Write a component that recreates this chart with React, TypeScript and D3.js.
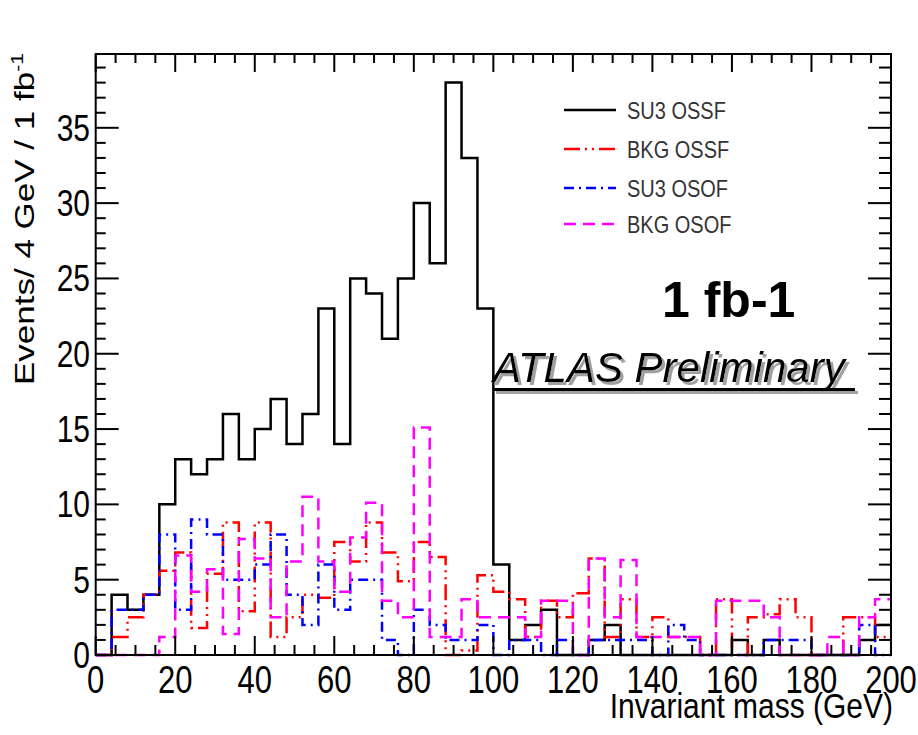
import React from "react";
import * as d3 from "d3";

// 4 GeV bins from 0 to 200 GeV
const binEdges = d3.range(0, 204, 4);

const su3Ossf = [0, 4, 3, 4, 10, 13, 12, 13, 16, 13, 15, 17, 14, 16, 23, 14, 25, 24, 21, 25, 30, 26, 38, 33, 23, 6, 1, 2, 3, 0, 0, 1, 2, 0, 0, 0, 0, 0, 0, 0, 1, 0, 1, 0, 0, 0, 0, 0, 1, 2];
const bkgOssf = [0, 1.2, 2.5, 4, 5.6, 6.8, 1.8, 5.4, 8.8, 2.9, 8.8, 1.2, 2.5, 4, 3.8, 7.5, 6.2, 8.8, 6.8, 4.9, 7.5, 6.5, 0, 0.3, 5.3, 4.2, 3.7, 1.2, 3.6, 2.5, 4.1, 6.4, 1.2, 3.7, 1.2, 2.5, 1.2, 1.2, 0, 3.7, 0, 2.5, 2.7, 3.7, 2.5, 0, 0, 2.5, 2.5, 1.2];
const su3Osof = [0, 3, 3, 4, 8, 3, 9, 8, 5, 5, 6, 8, 4, 2, 6, 3, 5, 5, 1, 0, 3, 2, 1, 1, 2, 0, 1, 1, 0, 1, 0, 1, 1, 1, 1, 0, 2, 1, 0, 0, 0, 0, 1, 1, 1, 0, 0, 0, 2, 0];
const bkgOsof = [0, 0, 0, 0, 1.2, 6.6, 4.2, 5.7, 1.4, 7.7, 6.4, 2.5, 6.2, 10.5, 6.2, 4.2, 7.8, 10.1, 3.6, 2.5, 15.1, 1.2, 1.2, 3.7, 2.5, 2.5, 2.5, 1.2, 3.6, 3.6, 0, 6.4, 2.5, 6.3, 1.2, 1.2, 1.2, 1.2, 0, 3.6, 3.6, 3.6, 2.5, 0, 0, 0, 1.2, 0, 2.5, 3.7];

const seriesNames = ["SU3 OSSF", "BKG OSSF", "SU3 OSOF", "BKG OSOF"];
const xTickLabels = [0, 20, 40, 60, 80, 100, 120, 140, 160, 180, 200];
const yTickLabels = [0, 5, 10, 15, 20, 25, 30, 35];

const FONT = "'Liberation Sans', Arial, Helvetica, sans-serif";

const styles = [
  { values: su3Ossf, color: "#000000", dash: "" },
  { values: bkgOssf, color: "#ff0000", dash: "16 5 2 5 2 5" },
  { values: su3Osof, color: "#0000ff", dash: "10 5 2 5" },
  { values: bkgOsof, color: "#ff00ff", dash: "12 7" },
];

function STxt({ x, y, sx = 1, sy = 1.25, rot = 0, anchor = "start", size, children, fill = "#000", weight = "normal", style = "normal" }: any) {
  return (
    <text
      transform={`translate(${x},${y}) rotate(${rot}) scale(${sx},${sy})`}
      textAnchor={anchor}
      fontSize={size}
      fontFamily={FONT}
      fill={fill}
      fontWeight={weight}
      fontStyle={style}
    >
      {children}
    </text>
  );
}

export default function App() {
  const x = d3.scaleLinear().domain([0, 200]).range([95.7, 891]);
  const y = d3.scaleLinear().domain([0, 39.9]).range([655, 54]);
  const line = d3
    .line<[number, number]>()
    .x((d) => x(d[0]))
    .y((d) => y(d[1]))
    .curve(d3.curveStepAfter);
  const histPath = (vals: number[]) =>
    line([...vals.map((v, i) => [binEdges[i], v] as [number, number]), [binEdges[vals.length], vals[vals.length - 1]]]) || "";

  const [x0, x1] = x.range();
  const [y0, y1] = y.range();
  const xMinor = d3.range(0, 201, 5);
  const yMinor = d3.range(0, 40, 1);

  const legendRows = [110, 149, 188, 224];

  return (
    <svg width={918} height={735} style={{ position: "absolute", left: 0, top: 0, background: "#fff" }}>
      <defs>
        <filter id="softShadow" x="-5%" y="-20%" width="110%" height="150%">
          <feOffset in="SourceAlpha" dx={3} dy={3} result="off" />
          <feFlood floodColor="#a0a0a0" result="col" />
          <feComposite in="col" in2="off" operator="in" result="shadow" />
          <feMerge>
            <feMergeNode in="shadow" />
            <feMergeNode in="SourceGraphic" />
          </feMerge>
        </filter>
      </defs>
      <rect x={0} y={0} width={918} height={735} fill="#fff" />

      {/* histograms */}
      <g fill="none" strokeWidth={2.5}>
        {styles.map((s, i) => (
          <path key={i} d={histPath(s.values)} stroke={s.color} strokeDasharray={s.dash || undefined} />
        ))}
      </g>

      {/* frame and ticks */}
      <g stroke="#000" strokeWidth={2} fill="none">
        <rect x={x0} y={y1} width={x1 - x0} height={y0 - y1} />
        {xMinor.map((v) => {
          const major = v % 20 === 0;
          return (
            <g key={"x" + v}>
              <line x1={x(v)} x2={x(v)} y1={y0} y2={y0 - (major ? 19 : 10)} />
              <line x1={x(v)} x2={x(v)} y1={y1} y2={y1 + (major ? 18 : 9)} />
            </g>
          );
        })}
        {yMinor.map((v) => {
          const major = v % 5 === 0;
          return (
            <g key={"y" + v}>
              <line x1={x0} x2={x0 + (major ? 23 : 10)} y1={y(v)} y2={y(v)} />
              <line x1={x1} x2={x1 - (major ? 23 : 12)} y1={y(v)} y2={y(v)} />
            </g>
          );
        })}
      </g>

      {/* tick labels */}
      {xTickLabels.map((v) => (
        <STxt key={"xl" + v} x={x(v)} y={693} anchor="middle" size={31}>
          {v}
        </STxt>
      ))}
      {yTickLabels.map((v) => (
        <STxt key={"yl" + v} x={90} y={y(v) + 13} anchor="end" size={30}>
          {v}
        </STxt>
      ))}

      {/* axis titles */}
      <STxt x={893} y={718} anchor="end" size={30} sy={1.15}>
        Invariant mass (GeV)
      </STxt>
      <text transform={`translate(34,385) rotate(-90) scale(1.25,1)`} fontSize={28} fontFamily={FONT}>
        Events/ 4 GeV / 1 fb
        <tspan fontSize={17} dy={-11}>-1</tspan>
      </text>

      {/* legend */}
      {seriesNames.map((name, i) => (
        <g key={name}>
          <line
            x1={564}
            x2={616}
            y1={legendRows[i]}
            y2={legendRows[i]}
            stroke={styles[i].color}
            strokeWidth={2.5}
            strokeDasharray={styles[i].dash || undefined}
          />
          <STxt x={627} y={legendRows[i] + 8.5} size={20} sy={1.2} fill="#333">
            {name}
          </STxt>
        </g>
      ))}

      {/* annotations */}
      <text x={662} y={317} fontSize={50} fontWeight="bold" fontFamily={FONT}>
        1 fb-1
      </text>
      <g filter="url(#softShadow)">
        <text x={493} y={382} fontSize={42} fontStyle="italic" fontFamily={FONT} fill="#000">
          ATLAS Preliminary
        </text>
        <rect x={493} y={388} width={362} height={3} fill="#000" />
      </g>
    </svg>
  );
}
